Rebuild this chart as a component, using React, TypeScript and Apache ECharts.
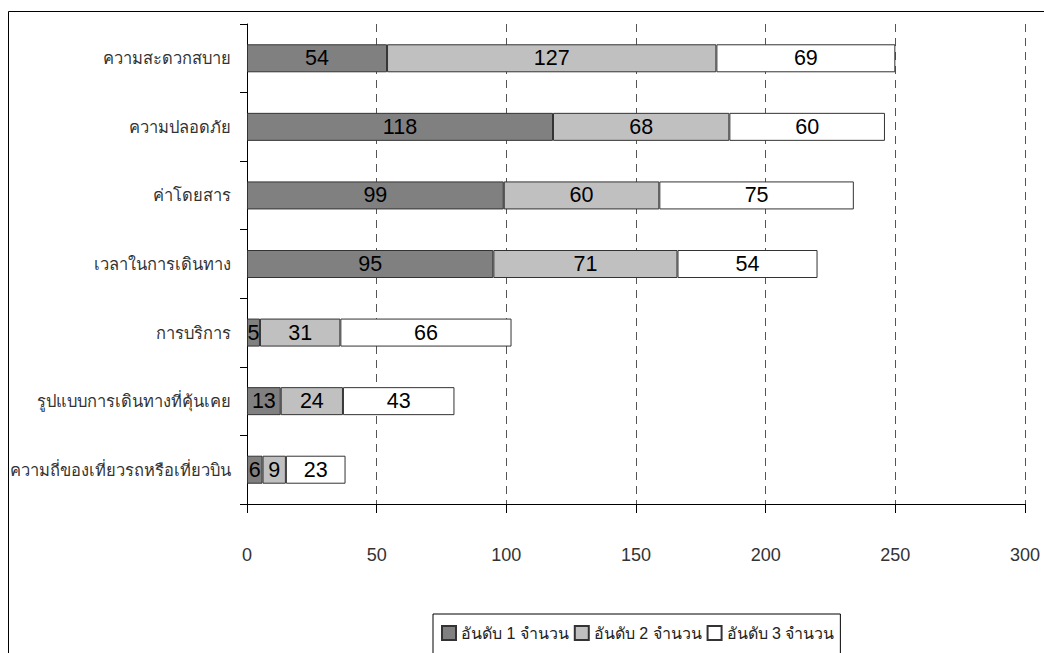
import React, { useEffect, useRef } from "react";
import * as echarts from "echarts";

const categories = [
  "ความสะดวกสบาย",
  "ความปลอดภัย",
  "ค่าโดยสาร",
  "เวลาในการเดินทาง",
  "การบริการ",
  "รูปแบบการเดินทางที่คุ้นเคย",
  "ความถี่ของเที่ยวรถหรือเที่ยวบิน",
];
const rank1 = [54, 118, 99, 95, 5, 13, 6];
const rank2 = [127, 68, 60, 71, 31, 24, 9];
const rank3 = [69, 60, 75, 54, 66, 43, 23];
const seriesNames = ["อันดับ 1 จำนวน", "อันดับ 2 จำนวน", "อันดับ 3 จำนวน"];
const seriesColors = ["#808080", "#c0c0c0", "#ffffff"];

const FONT = "'Liberation Sans', 'DejaVu Sans', 'Noto Sans', sans-serif";

export default function App() {
  const ref = useRef<HTMLDivElement>(null);
  useEffect(() => {
    document.body.style.margin = "0";
    if (!ref.current) return;
    const chart = echarts.init(ref.current, null, { renderer: "svg" });
    const data = [rank1, rank2, rank3];
    chart.setOption({
      animation: false,
      textStyle: { fontFamily: FONT },
      grid: { left: 247, right: 19, top: 24, bottom: 149, containLabel: false },
      xAxis: {
        type: "value",
        min: 0,
        max: 300,
        interval: 50,
        axisLine: { show: true, lineStyle: { color: "#000", width: 1 } },
        axisTick: { show: true, length: 9, lineStyle: { color: "#000" } },
        axisLabel: { fontSize: 18, color: "#333", margin: 42, fontFamily: FONT },
        splitLine: {
          show: true,
          lineStyle: { color: "#555", type: [8, 6], width: 1 },
        },
      },
      yAxis: {
        type: "category",
        data: categories,
        inverse: true,
        axisLine: { show: true, lineStyle: { color: "#000", width: 1 } },
        axisTick: { show: true, length: 7, lineStyle: { color: "#000" } },
        axisLabel: { fontSize: 16.5, color: "#333", margin: 16, fontFamily: FONT },
        splitLine: { show: false },
      },
      legend: {
        left: 433,
        top: 614,
        orient: "horizontal",
        icon: "rect",
        itemWidth: 14,
        itemHeight: 14,
        itemGap: 5,
        borderColor: "#000",
        borderWidth: 1,
        padding: [11, 6, 30, 8],
        textStyle: { fontSize: 16, color: "#222", fontFamily: FONT },
        data: seriesNames,
      },
      graphic: [
        {
          type: "rect",
          shape: { x: 8.5, y: 11.5, width: 1200, height: 800 },
          style: { fill: "none", stroke: "#000", lineWidth: 1 },
          silent: true,
          z: -1,
        },
      ],
      series: data.map((d, i) => ({
        name: seriesNames[i],
        type: "bar",
        stack: "total",
        data: d,
        barWidth: 28,
        itemStyle: { color: seriesColors[i], borderColor: "#333", borderWidth: 1 },
        label: {
          show: true,
          position: "inside",
          fontSize: 21.5,
          color: "#000",
          fontFamily: FONT,
        },
      })),
    });
    return () => chart.dispose();
  }, []);
  return <div ref={ref} style={{ width: 1044, height: 653 }} />;
}
